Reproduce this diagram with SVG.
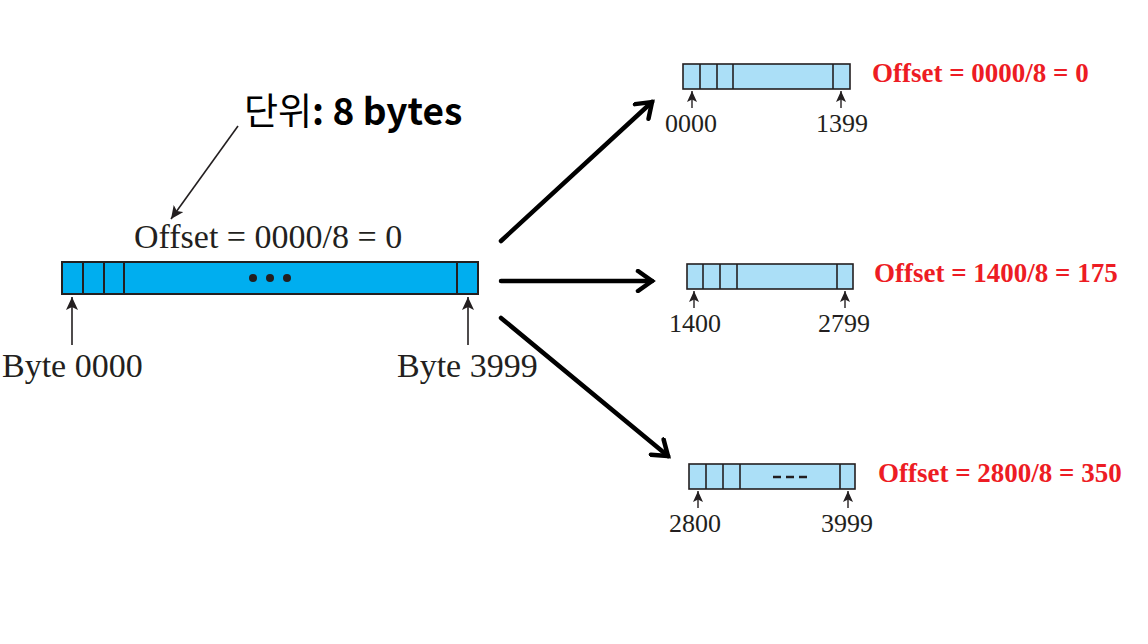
<svg xmlns="http://www.w3.org/2000/svg" width="1148" height="644" viewBox="0 0 1148 644">
<defs>
<marker id="chev" markerUnits="userSpaceOnUse" markerWidth="24" markerHeight="24" viewBox="0 0 24 24" refX="20" refY="12" orient="auto">
<path d="M6,2 L20,12 L6,22" fill="none" stroke="#000" stroke-width="4.5" stroke-linecap="round" stroke-linejoin="miter"/>
</marker>
<marker id="tri" markerUnits="userSpaceOnUse" markerWidth="14" markerHeight="12" viewBox="0 0 14 12" refX="13" refY="6" orient="auto">
<path d="M0,0 L13,6 L0,12 L3,6 Z" fill="#231f20"/>
</marker>
<marker id="trs" markerUnits="userSpaceOnUse" markerWidth="12" markerHeight="10" viewBox="0 0 12 10" refX="11" refY="5" orient="auto">
<path d="M0,0 L11,5 L0,10 L2.5,5 Z" fill="#231f20"/>
</marker>
</defs>
<style>
.big{fill:#00aeef;stroke:#231f20;stroke-width:2}
.sm{fill:#abdff7;stroke:#231f20;stroke-width:1.6}
.div{stroke:#231f20;stroke-width:2}
.divs{stroke:#231f20;stroke-width:1.6}
.ptr{stroke:#231f20;stroke-width:1.6;fill:none;marker-end:url(#tri)}
.ptrs{stroke:#231f20;stroke-width:1.4;fill:none;marker-end:url(#trs)}
.serif{font-family:"Liberation Serif","Times New Roman",serif;fill:#231f20}
.red{font-family:"Liberation Serif","Times New Roman",serif;font-weight:bold;fill:#ed1c24;font-size:27px}
.num{font-size:26px}
.conn{stroke:#000;stroke-width:4.5;fill:none;stroke-linecap:round;marker-end:url(#chev)}
</style>

<g id="unit-label">
<text x="244" y="125" font-family="'Noto Sans CJK KR','Noto Sans',sans-serif" font-size="37" fill="#000">단위<tspan font-weight="600">: 8 bytes</tspan></text>
<line x1="238" y1="126" x2="171" y2="219" class="ptr"/>
</g>

<g id="original-datagram">
<text x="134" y="248" class="serif" font-size="34">Offset = 0000/8 = 0</text>
<rect x="62" y="262" width="416" height="32" class="big"/>
<line x1="83" y1="262" x2="83" y2="294" class="div"/>
<line x1="104" y1="262" x2="104" y2="294" class="div"/>
<line x1="124" y1="262" x2="124" y2="294" class="div"/>
<line x1="457" y1="262" x2="457" y2="294" class="div"/>
<circle cx="253" cy="278" r="4" fill="#231f20"/>
<circle cx="270" cy="278" r="4" fill="#231f20"/>
<circle cx="287" cy="278" r="4" fill="#231f20"/>
<line x1="72" y1="345" x2="72" y2="297" class="ptr"/>
<line x1="468" y1="345" x2="468" y2="297" class="ptr"/>
<text x="2" y="377" class="serif" font-size="34">Byte 0000</text>
<text x="397" y="377" class="serif" font-size="34">Byte 3999</text>
</g>

<g id="connectors">
<line x1="501" y1="241" x2="652" y2="102" class="conn"/>
<line x1="501" y1="281" x2="652" y2="281" class="conn"/>
<line x1="501" y1="318" x2="668" y2="456" class="conn"/>
</g>

<g id="fragment-1">
<rect x="683" y="64" width="167" height="25" class="sm"/>
<line x1="700" y1="64" x2="700" y2="89" class="divs"/>
<line x1="717" y1="64" x2="717" y2="89" class="divs"/>
<line x1="733" y1="64" x2="733" y2="89" class="divs"/>
<line x1="833" y1="64" x2="833" y2="89" class="divs"/>
<line x1="692" y1="108" x2="692" y2="91" class="ptrs"/>
<line x1="841" y1="108" x2="841" y2="91" class="ptrs"/>
<text x="665" y="132" class="serif num">0000</text>
<text x="816" y="132" class="serif num">1399</text>
<text x="872" y="82" class="red">Offset = 0000/8 = 0</text>
</g>

<g id="fragment-2">
<rect x="687" y="264" width="166" height="25" class="sm"/>
<line x1="703" y1="264" x2="703" y2="289" class="divs"/>
<line x1="720" y1="264" x2="720" y2="289" class="divs"/>
<line x1="737" y1="264" x2="737" y2="289" class="divs"/>
<line x1="837" y1="264" x2="837" y2="289" class="divs"/>
<line x1="694" y1="308" x2="694" y2="291" class="ptrs"/>
<line x1="845" y1="308" x2="845" y2="291" class="ptrs"/>
<text x="669" y="332" class="serif num">1400</text>
<text x="818" y="332" class="serif num">2799</text>
<text x="874" y="282" class="red">Offset = 1400/8 = 175</text>
</g>

<g id="fragment-3">
<rect x="689" y="464" width="166" height="25" class="sm"/>
<line x1="706" y1="464" x2="706" y2="489" class="divs"/>
<line x1="723" y1="464" x2="723" y2="489" class="divs"/>
<line x1="740" y1="464" x2="740" y2="489" class="divs"/>
<line x1="840" y1="464" x2="840" y2="489" class="divs"/>
<line x1="773" y1="477" x2="781" y2="477" stroke="#231f20" stroke-width="2.5"/>
<line x1="786" y1="477" x2="794" y2="477" stroke="#231f20" stroke-width="2.5"/>
<line x1="799" y1="477" x2="807" y2="477" stroke="#231f20" stroke-width="2.5"/>
<line x1="698" y1="508" x2="698" y2="491" class="ptrs"/>
<line x1="848" y1="508" x2="848" y2="491" class="ptrs"/>
<text x="669" y="532" class="serif num">2800</text>
<text x="821" y="532" class="serif num">3999</text>
<text x="878" y="482" class="red">Offset = 2800/8 = 350</text>
</g>
</svg>
